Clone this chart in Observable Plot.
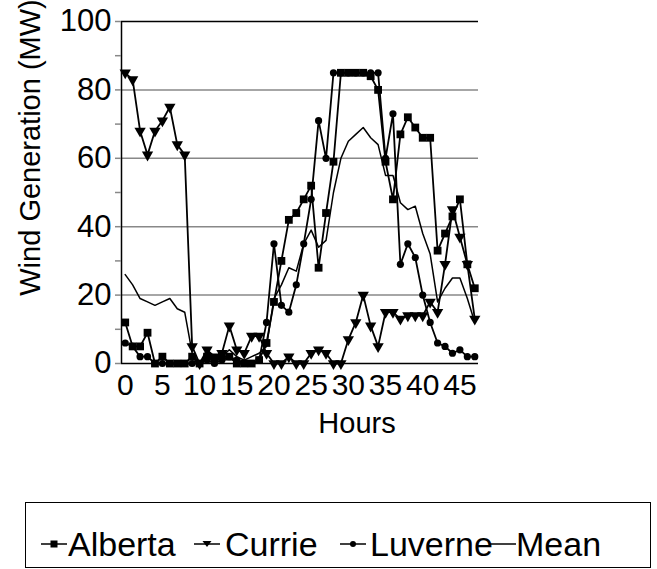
<!DOCTYPE html>
<html>
<head>
<meta charset="utf-8">
<script src="https://cdn.jsdelivr.net/npm/d3@7"></script>
<script src="https://cdn.jsdelivr.net/npm/@observablehq/plot@0.6"></script>
<style>
  html, body { margin: 0; padding: 0; background: #fff; }
  body { width: 657px; height: 569px; position: relative; overflow: hidden; font-family: "Liberation Sans", Arial, sans-serif; }
  #chart { position: absolute; left: 0; top: 0; }
  #legend { position: absolute; left: 25px; top: 502px; width: 626px; height: 66px; border: 1.5px solid #000; box-sizing: border-box; }
  .sw { position: absolute; top: 41px; transform: translateY(-50%); }
  .lbl { position: absolute; top: 41px; transform: translateY(-50%); font-size: 34px; line-height: 1; color: #000; white-space: nowrap; }
  svg { display: block; }
</style>
</head>
<body>
<div id="chart"></div>
<div id="legend"></div>
<script>
const hours = [0,1,2,3,4,5,6,7,8,9,10,11,12,13,14,15,16,17,18,19,20,21,22,23,24,25,26,27,28,29,30,31,32,33,34,35,36,37,38,39,40,41,42,43,44,45,46,47];
const alberta = [12,5,5,9,0,2,0,0,0,2,0,2,1,2,2,0,0,0,1,6,18,30,42,44,48,52,28,44,59,85,85,85,85,84,80,59,48,67,72,69,66,66,33,38,43,48,29,22];
const currie  = [85,83,68,61,68,71,75,64,61,5,0,4,2,3,11,4,3,8,8,3,0,0,2,0,0,3,4,3,0,0,7,12,20,11,5,15,15,13,14,14,14,18,15,29,45,37,29,13];
const luverne = [6,5,2,2,0,0,0,0,0,0,0,1,0,1,2,1,0,0,1,12,35,17,15,23,35,48,71,60,85,85,85,85,85,85,85,60,73,29,35,31,20,12,6,5,3,4,2,2];
const meanMW  = [26,23,19,18,17,18,19,16,15,3,0,3,1,2,4,2,1,2,3,5,19,23,28,27,35,39,34,36,50,60,65,67,69,66,64,55,55,47,45,46,38,32,18,22,25,25,19,12];
const seriesNames = ["Alberta", "Currie", "Luverne", "Mean"];
const xTicks = [0,5,10,15,20,25,30,35,40,45];
const yMajor = [0,20,40,60,80,100];
const yMinor = [10,30,50,70,90];
const yGrid = [20,40,60,80];

const toRows = (vals) => hours.map((h, i) => ({hour: h, mw: vals[i]}));
const A = toRows(alberta), C = toRows(currie), L = toRows(luverne), M = toRows(meanMW);

const chart = Plot.plot({
  width: 657,
  height: 445,
  marginLeft: 121,
  marginRight: 179,
  marginTop: 21,
  marginBottom: 82,
  style: {fontFamily: "Liberation Sans, Arial, sans-serif", fontSize: "30px", color: "#000", background: "#fff", overflow: "visible"},
  x: {domain: [-0.5, 47.5]},
  y: {domain: [0, 100]},
  marks: [
    Plot.gridY(yGrid, {stroke: "#888", strokeOpacity: 1, strokeWidth: 1.5}),
    Plot.ruleY([100], {stroke: "#000", strokeWidth: 1.5}),
    Plot.ruleY([0], {stroke: "#000", strokeWidth: 1.5}),
    Plot.ruleX([-0.5], {stroke: "#000", strokeWidth: 1.5}),
    Plot.axisY(yMinor, {tickSize: 6, tickFormat: () => "", stroke: "#888", strokeWidth: 1.5, label: null}),
    Plot.axisY(yMajor, {tickSize: 6, tickPadding: 4, stroke: "#888", strokeWidth: 1.5, fontSize: 31, label: null}),
    Plot.axisX(xTicks, {tickSize: 0, tickPadding: 10, fontSize: 30, label: null}),
    Plot.text(["Hours"], {frameAnchor: "bottom", lineAnchor: "middle", textAnchor: "middle", dx: 57, dy: 60, fontSize: 29}),
    Plot.text(["Wind Generation (MW)"], {frameAnchor: "left", textAnchor: "middle", lineAnchor: "middle", dx: -91, dy: -45, rotate: -90, fontSize: 29}),
    Plot.line(M, {x: "hour", y: "mw", stroke: "#000", strokeWidth: 1.5}),
    Plot.line(C, {x: "hour", y: "mw", stroke: "#000", strokeWidth: 1.8}),
    Plot.line(L, {x: "hour", y: "mw", stroke: "#000", strokeWidth: 1.8}),
    Plot.line(A, {x: "hour", y: "mw", stroke: "#000", strokeWidth: 1.8}),
    Plot.dot(C, {x: "hour", y: "mw", symbol: "triangle", r: 4.2, rotate: 180, fill: "#000", stroke: "none"}),
    Plot.dot(L, {x: "hour", y: "mw", symbol: "circle", r: 3.6, fill: "#000", stroke: "none"}),
    Plot.dot(A, {x: "hour", y: "mw", symbol: "square", r: 4.4, fill: "#000", stroke: "none"})
  ]
});
document.getElementById("chart").appendChild(chart);

// legend (positions relative to the legend box)
const legend = document.getElementById("legend");
const swLeft = [14, 167, 313, 463];
const txtLeft = [42, 199, 344, 490];
const markers = ["square", "triangle", "circle", null];
seriesNames.forEach((name, i) => {
  const svg = d3.create("svg").attr("class", "sw").attr("width", 28).attr("height", 20).style("left", swLeft[i] + "px");
  svg.append("line").attr("x1", 1).attr("x2", 27).attr("y1", 10).attr("y2", 10).attr("stroke", "#000").attr("stroke-width", 1.5);
  if (markers[i] === "square") svg.append("rect").attr("x", 10.5).attr("y", 6.5).attr("width", 7).attr("height", 7).attr("fill", "#000");
  if (markers[i] === "triangle") svg.append("path").attr("d", "M9.5,7 L18.5,7 L14,13 Z").attr("fill", "#000");
  if (markers[i] === "circle") svg.append("circle").attr("cx", 14).attr("cy", 10).attr("r", 3).attr("fill", "#000");
  legend.appendChild(svg.node());
  const span = document.createElement("span");
  span.className = "lbl";
  span.style.left = txtLeft[i] + "px";
  span.textContent = name;
  legend.appendChild(span);
});
</script>
</body>
</html>
